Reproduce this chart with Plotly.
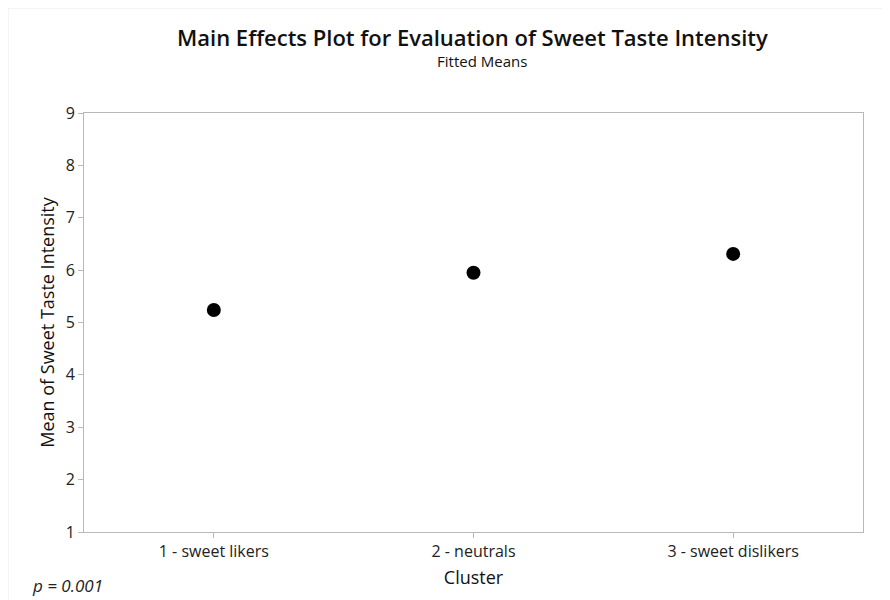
import plotly.graph_objects as go

categories = ["1 - sweet likers", "2 - neutrals", "3 - sweet dislikers"]
fitted_means = [5.24, 5.95, 6.31]
y_ticks = [1, 2, 3, 4, 5, 6, 7, 8, 9]

FONT = "Open Sans"

fig = go.Figure()
fig.add_trace(go.Scatter(
    x=categories, y=fitted_means, mode="markers",
    marker=dict(color="black", size=14),
    showlegend=False, hoverinfo="x+y",
))

# page body adds an 8px offset; figure sized to fill the remaining window
fig.update_layout(
    width=882, height=592,
    paper_bgcolor="white", plot_bgcolor="white",
    margin=dict(l=76, r=27, t=105, b=68),
    font=dict(family=FONT, color="#222"),
    xaxis=dict(
        type="category", range=[-0.5, 2.5],
        title=dict(text="Cluster", font=dict(size=18, color="#111"), standoff=10),
        showline=True, linecolor="#b8b8b8", linewidth=1, mirror=True,
        ticks="outside", ticklen=5, tickcolor="#b8b8b8",
        tickfont=dict(size=16, color="#222"),
        showgrid=False, zeroline=False,
    ),
    yaxis=dict(
        range=[1, 9], tickvals=y_ticks,
        title=dict(text="Mean of Sweet Taste Intensity", font=dict(size=18, color="#111"), standoff=6),
        showline=True, linecolor="#b8b8b8", linewidth=1, mirror=True,
        ticks="outside", ticklen=5, tickcolor="#b8b8b8",
        tickfont=dict(size=16, color="#222"),
        showgrid=False, zeroline=False,
    ),
)

fig.add_annotation(
    text="Main Effects Plot for Evaluation of Sweet Taste Intensity",
    xref="paper", yref="paper", x=0.4986, y=1.1814,
    xanchor="center", yanchor="middle", showarrow=False,
    font=dict(family=FONT, size=22, color="#111", weight=600),
)
fig.add_annotation(
    text="Fitted Means",
    xref="paper", yref="paper", x=0.511, y=1.1241,
    xanchor="center", yanchor="middle", showarrow=False,
    font=dict(family=FONT, size=15, color="#111", weight=500),
)

fig.add_annotation(
    text="<i>p = 0.001</i>", xref="paper", yref="paper",
    x=-0.0693, y=-0.1265, xanchor="left", yanchor="middle", showarrow=False,
    font=dict(size=17, color="#222"),
)

# faint outer frame
fig.add_shape(type="line", xref="paper", yref="paper",
              x0=-0.0976, x1=1.04, y0=1.2506, y1=1.2506,
              line=dict(color="#f0e4ea", width=1))
fig.add_shape(type="line", xref="paper", yref="paper",
              x0=-0.0976, x1=-0.0976, y0=1.2506, y1=-0.17,
              line=dict(color="#e8e8e8", width=1))

fig.write_html("out.html")
